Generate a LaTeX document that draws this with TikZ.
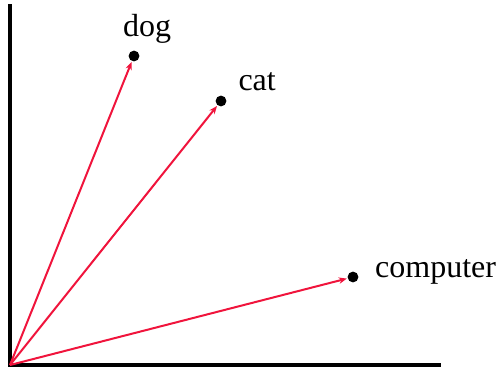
\documentclass[tikz,border=0pt]{standalone}
\usepackage{fontspec}
\setmainfont{Liberation Serif}
\usepackage{tikz}
\usetikzlibrary{positioning,arrows.meta}
\definecolor{vecred}{HTML}{F0143C}
\definecolor{ink}{HTML}{000000}

\begin{document}
\begin{tikzpicture}[x=0.5pt,y=0.5pt,
    axis/.style={ink, line width=1.6pt},
    vec/.style={vecred, line width=1pt, -{Stealth[length=4pt,width=3.2pt]}, shorten >=0.3pt},
    pt/.style={circle, fill=ink, inner sep=0pt, minimum size=5.4pt},
    word/.style={font=\fontsize{16}{19}\selectfont, inner sep=1pt}]
  \useasboundingbox (0,0) rectangle (497,371);
  % axes
  \coordinate (o) at (10,6);
  \coordinate (ytop) at (10,367);
  \coordinate (xend) at (441,6);
  \draw[axis] (ytop) -- (o) -- (xend);
  % words as points
  \node[pt] (dog) at (134,315) {};
  \node[pt] (cat) at (221,270) {};
  \node[pt] (computer) at (353,94) {};
  \node[word, above=7pt of dog.north, anchor=base, xshift=6.5pt] (doglbl) {dog};
  \node[word, above right=3pt and 5.5pt of cat, anchor=base west] (catlbl) {cat};
  \node[word, right=7pt of computer, anchor=base west] (computerlbl) {computer};
  % vectors
  \draw[vec] (o) -- (dog);
  \draw[vec] (o) -- (cat);
  \draw[vec] (o) -- (computer);
\end{tikzpicture}
\end{document}
